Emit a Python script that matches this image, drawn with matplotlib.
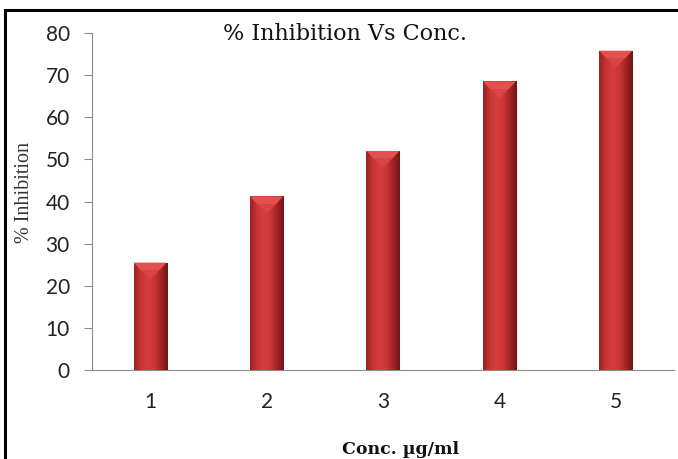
import numpy as np
import matplotlib
matplotlib.use("Agg")
import matplotlib.pyplot as plt
from matplotlib.colors import LinearSegmentedColormap
from matplotlib.lines import Line2D

categories = ["1", "2", "3", "4", "5"]
inhibition = [25.5, 41.2, 52.0, 68.5, 75.8]
yticks = [0, 10, 20, 30, 40, 50, 60, 70, 80]

W, H = 678, 459
fig = plt.figure(figsize=(W / 100, H / 100), dpi=100)
ax = fig.add_axes([92 / W, 1 - 370 / H, (674 - 92) / W, (370 - 33) / H])

x = np.arange(len(categories))
bars = ax.bar(x, inhibition, width=0.285, color="#C83535", edgecolor="none", zorder=2)

# horizontal gradient to mimic the 3D cylinder look
cmap = LinearSegmentedColormap.from_list(
    "redbar", ["#962222", "#C83434", "#D63E3E", "#CC3636", "#A22424", "#6E1414"])
grad = np.linspace(0, 1, 256).reshape(1, -1)
for b in bars:
    x0, w, h = b.get_x(), b.get_width(), b.get_height()
    im = ax.imshow(grad, cmap=cmap, aspect="auto", extent=[x0, x0 + w, 0, h],
                   zorder=3, interpolation="bicubic")
    im.set_clip_path(b)
    # bevel highlight at the top
    bev = 1.8
    ax.fill([x0, x0 + w, x0 + w * 0.78, x0 + w * 0.22],
            [h, h, h - bev, h - bev], color="#E35050", zorder=4, lw=0)
    ax.fill([x0 + w * 0.22, x0 + w * 0.78, x0 + w * 0.5],
            [h - bev, h - bev, h - bev * 2.2], color="#D94545", zorder=4, lw=0)

ax.set_xlim(-0.5, len(categories) - 0.5)
ax.set_ylim(0, 80)
ax.set_yticks(yticks)
ax.set_xticks(x)
ax.set_xticklabels(categories)

for s in ["top", "right"]:
    ax.spines[s].set_visible(False)
ax.spines["left"].set_color("#8C8C8C")
ax.spines["bottom"].set_color("#8C8C8C")
ax.tick_params(axis="y", length=6, color="#8C8C8C", labelsize=15, pad=10)
ax.tick_params(axis="x", length=0, labelsize=15, pad=16)
for lab in ax.get_xticklabels() + ax.get_yticklabels():
    lab.set_family(["Lato", "DejaVu Sans"])
    lab.set_color("#222222")

fig.text(345 / W, 1 - 40 / H, "% Inhibition Vs Conc.", family="DejaVu Serif",
         fontsize=16, ha="center", va="baseline", color="#111111")
fig.text(25 / W, 1 - 192 / H, "% Inhibition", family="Liberation Serif",
         fontsize=14.5, rotation=90, ha="center", va="center", color="#333333")
fig.text(401 / W, 1 - 449 / H, "Conc. µg/ml", family="DejaVu Serif",
         fontsize=12.5, fontweight="bold", ha="center", va="center", color="#111111")

# outer frame (cut off at right and bottom)
fig.add_artist(Line2D([5 / W, 1.01], [1 - 10 / H, 1 - 10 / H], color="black", lw=2.2,
                      transform=fig.transFigure))
fig.add_artist(Line2D([5 / W, 5 / W], [-0.01, 1 - 10 / H], color="black", lw=2.2,
                      transform=fig.transFigure))

fig.savefig("out.png", dpi=100)
